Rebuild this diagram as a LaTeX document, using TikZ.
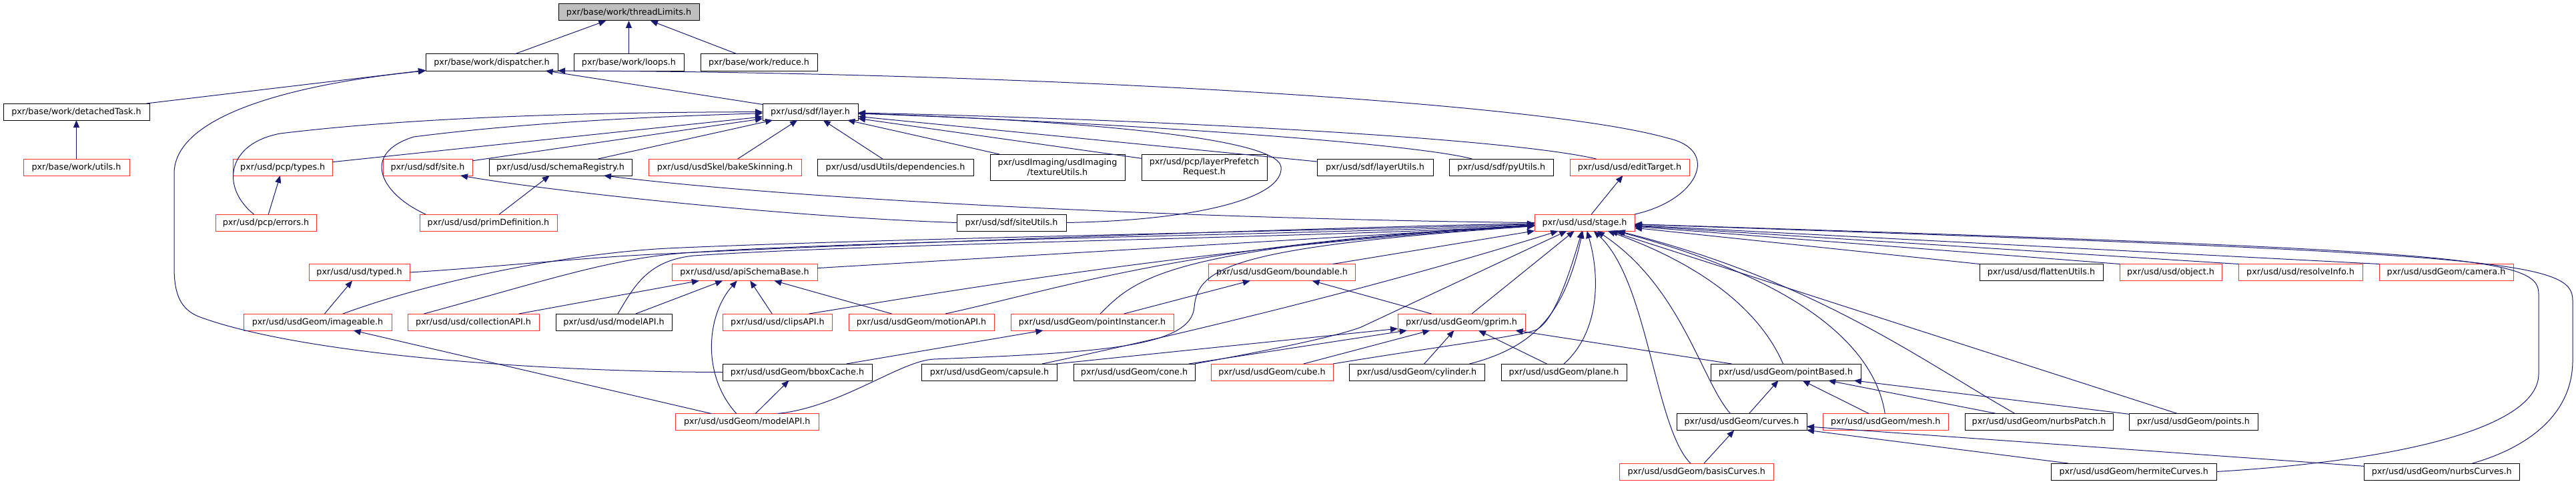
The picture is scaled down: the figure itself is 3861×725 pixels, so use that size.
\documentclass[tikz,border=0pt]{standalone}
\usepackage{fontspec}
\setmainfont{DejaVu Sans}
\usetikzlibrary{arrows.meta,positioning}
\definecolor{edgeblue}{HTML}{191970}
\definecolor{truncred}{HTML}{FF3030}
\definecolor{rootgrey}{HTML}{BFBFBF}
\tikzset{
  filebox/.style={draw=black, fill=white, line width=1pt, inner sep=0pt, outer sep=0pt, minimum height=25pt, align=center, font=\fontsize{12.75}{14.5}\selectfont},
  filetrunc/.style={filebox, draw=truncred},
  fileroot/.style={filebox, fill=rootgrey},
  bw/.style={minimum width=#1pt},
  incl/.style={-{Triangle[length=11pt, width=9pt]}, draw=edgeblue, line width=1pt},
}
\begin{document}
\begin{tikzpicture}[x=1pt, y=-1pt]
  \useasboundingbox (0,0) rectangle (3861,725);
  \node[fileroot, bw=211] (threadlimits) at (942.5,18.5) {pxr/base/work/threadLimits.h};
  \node[filebox, bw=198, anchor=west] (dispatcher) at (638,93.5) {pxr/base/work/dispatcher.h};
  \node[filebox, bw=165, right=24pt of dispatcher] (loops) {pxr/base/work/loops.h};
  \node[filebox, bw=175, right=25pt of loops] (reduce) {pxr/base/work/reduce.h};
  \node[filebox, bw=219, anchor=west] (detachedtask) at (5,167.5) {pxr/base/work/detachedTask.h};
  \node[filebox, bw=143, anchor=west] (layer) at (1143,167.5) {pxr/usd/sdf/layer.h};
  \node[filetrunc, bw=159, anchor=west] (workutils) at (35,250.5) {pxr/base/work/utils.h};
  \node[filetrunc, bw=148.5, right=155.5pt of workutils] (pcptypes) {pxr/usd/pcp/types.h};
  \node[filetrunc, bw=134, right=76pt of pcptypes] (sdfsite) {pxr/usd/sdf/site.h};
  \node[filebox, bw=214, right=25pt of sdfsite] (schemareg) {pxr/usd/usd/schemaRegistry.h};
  \node[filetrunc, bw=229, right=25pt of schemareg] (bakeskin) {pxr/usd/usdSkel/bakeSkinning.h};
  \node[filebox, bw=234, right=24pt of bakeskin] (dependencies) {pxr/usd/usdUtils/dependencies.h};
  \node[filebox, bw=202, minimum height=39pt, right=25pt of dependencies] (textureutils) {pxr/usdImaging/usdImaging\\/textureUtils.h};
  \node[filebox, bw=188, minimum height=39pt, right=25pt of textureutils] (layerprefetch) {pxr/usd/pcp/layerPrefetch\\Request.h};
  \node[filebox, bw=174, right=75pt of layerprefetch] (layerutils) {pxr/usd/sdf/layerUtils.h};
  \node[filebox, bw=155.5, right=24.5pt of layerutils] (pyutils) {pxr/usd/sdf/pyUtils.h};
  \node[filetrunc, bw=179, right=25pt of pyutils] (edittarget) {pxr/usd/usd/editTarget.h};
  \node[filetrunc, bw=151, anchor=west] (pcperrors) at (323,333.5) {pxr/usd/pcp/errors.h};
  \node[filetrunc, bw=206, right=155pt of pcperrors] (primdef) {pxr/usd/usd/primDefinition.h};
  \node[filebox, bw=164, anchor=west] (siteutils) at (1434,333.5) {pxr/usd/sdf/siteUtils.h};
  \node[filetrunc, bw=150, anchor=west] (stage) at (2300,333.5) {pxr/usd/usd/stage.h};
  \node[filetrunc, bw=151, anchor=west] (typed) at (463,408) {pxr/usd/usd/typed.h};
  \node[filetrunc, bw=218, anchor=west] (apischema) at (1007,408) {pxr/usd/usd/apiSchemaBase.h};
  \node[filetrunc, bw=220, anchor=west] (boundable) at (1811.5,408) {pxr/usd/usdGeom/boundable.h};
  \node[filebox, bw=185, anchor=west] (flattenutils) at (2967,408) {pxr/usd/usd/flattenUtils.h};
  \node[filetrunc, bw=153, right=25pt of flattenutils] (object) {pxr/usd/usd/object.h};
  \node[filetrunc, bw=186, right=25pt of object] (resolveinfo) {pxr/usd/usd/resolveInfo.h};
  \node[filetrunc, bw=201, right=25pt of resolveinfo] (camera) {pxr/usd/usdGeom/camera.h};
  \node[filetrunc, bw=222, anchor=west] (imageable) at (365,482.5) {pxr/usd/usdGeom/imageable.h};
  \node[filetrunc, bw=197, right=24pt of imageable] (collectionapi) {pxr/usd/usd/collectionAPI.h};
  \node[filebox, bw=174, right=25pt of collectionapi] (modelapi) {pxr/usd/usd/modelAPI.h};
  \node[filetrunc, bw=164, right=76.5pt of modelapi] (clipsapi) {pxr/usd/usd/clipsAPI.h};
  \node[filetrunc, bw=218, right=24.5pt of clipsapi] (motionapi) {pxr/usd/usdGeom/motionAPI.h};
  \node[filetrunc, bw=244, right=25pt of motionapi] (pointinstancer) {pxr/usd/usdGeom/pointInstancer.h};
  \node[filetrunc, bw=191, anchor=west] (gprim) at (2095,482.5) {pxr/usd/usdGeom/gprim.h};
  \node[filebox, bw=224, anchor=west] (bboxcache) at (1083,557.5) {pxr/usd/usdGeom/bboxCache.h};
  \node[filebox, bw=203, right=74.5pt of bboxcache] (capsule) {pxr/usd/usdGeom/capsule.h};
  \node[filebox, bw=182, right=24.5pt of capsule] (cone) {pxr/usd/usdGeom/cone.h};
  \node[filetrunc, bw=183, right=24pt of cone] (cube) {pxr/usd/usdGeom/cube.h};
  \node[filebox, bw=203, right=24pt of cube] (cylinder) {pxr/usd/usdGeom/cylinder.h};
  \node[filebox, bw=188, right=25pt of cylinder] (plane) {pxr/usd/usdGeom/plane.h};
  \node[filebox, bw=225, right=126pt of plane] (pointbased) {pxr/usd/usdGeom/pointBased.h};
  \node[filetrunc, bw=215.5, anchor=west] (geommodelapi) at (1012,632) {pxr/usd/usdGeom/modelAPI.h};
  \node[filebox, bw=195, anchor=west] (curves) at (2513,632) {pxr/usd/usdGeom/curves.h};
  \node[filetrunc, bw=187.5, right=24.5pt of curves] (mesh) {pxr/usd/usdGeom/mesh.h};
  \node[filebox, bw=222, right=25pt of mesh] (nurbspatch) {pxr/usd/usdGeom/nurbsPatch.h};
  \node[filebox, bw=193, right=24pt of nurbspatch] (points) {pxr/usd/usdGeom/points.h};
  \node[filetrunc, bw=230.5, anchor=west] (basiscurves) at (2427.5,706.5) {pxr/usd/usdGeom/basisCurves.h};
  \node[filebox, bw=247.5, anchor=west] (hermitecurves) at (3074.5,706.5) {pxr/usd/usdGeom/hermiteCurves.h};
  \node[filebox, bw=232.5, anchor=west] (nurbscurves) at (3543.5,706.5) {pxr/usd/usdGeom/nurbsCurves.h};
  \draw[incl] (dispatcher) -- (threadlimits);
  \draw[incl] (loops) -- (threadlimits);
  \draw[incl] (reduce) -- (threadlimits);
  \draw[incl] (detachedtask) -- (dispatcher);
  \draw[incl] (layer) -- (dispatcher);
  \draw[incl] (stage.north east) .. controls (2545,300) and (2580,225) .. (2500,207) .. controls (2300,150) and (1500,108) .. (dispatcher.south east);
  \draw[incl] (bboxcache.west) .. controls (800,557) and (450,530) .. (300,475) .. controls (270,464) and (261,440) .. (261,400) -- (261,260) .. controls (261,170) and (450,125) .. (dispatcher.south west);
  \draw[incl] (workutils) -- (detachedtask);
  \draw[incl] (pcptypes) -- (layer);
  \draw[incl] ([xshift=-18pt]pcperrors.north) .. controls (330,280) and (340,215) .. (420,200) .. controls (650,172) and (950,168) .. (layer);
  \draw[incl] ([xshift=9pt]primdef.north west) .. controls (570,290) and (540,230) .. (620,205) .. controls (800,182) and (1000,174) .. (layer);
  \draw[incl] (sdfsite) -- (layer);
  \draw[incl] (schemareg) -- (layer);
  \draw[incl] (bakeskin) -- (layer);
  \draw[incl] (dependencies) -- (layer);
  \draw[incl] (textureutils) -- (layer);
  \draw[incl] (layerprefetch) -- (layer);
  \draw[incl] (layerutils) -- (layer);
  \draw[incl] ([xshift=-44pt]pyutils.north) .. controls (2120,215) and (1700,185) .. (layer);
  \draw[incl] ([xshift=-50pt]edittarget.north) .. controls (2250,205) and (1700,178) .. (layer);
  \draw[incl] (siteutils.east) .. controls (1800,330) and (1925,295) .. (1920,250) .. controls (1915,205) and (1600,180) .. (layer);
  \draw[incl] (pcperrors) -- (pcptypes);
  \draw[incl] (primdef) -- (schemareg);
  \draw[incl] (siteutils.west) .. controls (1200,326) and (850,290) .. ([xshift=-18pt]sdfsite.south east);
  \draw[incl] (stage.west) .. controls (1900,330) and (1250,305) .. ([xshift=-42pt]schemareg.south east);
  \draw[incl] (stage) -- (edittarget);
  \draw[incl] (typed.east) .. controls (720,402) and (880,385) .. (1000,380) .. controls (1300,365) and (2000,340) .. (stage);
  \draw[incl] ([xshift=38pt]imageable.north) .. controls (650,420) and (850,380) .. (1000,372) .. controls (1300,358) and (2000,345) .. (stage);
  \draw[incl] ([xshift=-74pt]collectionapi.north) .. controls (820,420) and (920,385) .. (1040,378) .. controls (1300,360) and (2000,350) .. (stage);
  \draw[incl] ([xshift=6pt]modelapi.north) .. controls (950,430) and (970,390) .. (1040,383) .. controls (1300,365) and (2000,355) .. (stage);
  \draw[incl] (apischema) -- (stage);
  \draw[incl] ([xshift=47pt]clipsapi.north) .. controls (1400,440) and (1800,370) .. (stage);
  \draw[incl] ([xshift=36pt]motionapi.north) .. controls (1600,430) and (1780,365) .. (stage);
  \draw[incl] ([xshift=12pt]pointinstancer.north) .. controls (1700,420) and (1740,370) .. (stage);
  \draw[incl] (boundable) -- (stage);
  \draw[incl] (flattenutils.north west) -- (stage);
  \draw[incl] (object.north west) -- (stage);
  \draw[incl] (resolveinfo.north west) -- (stage);
  \draw[incl] (camera.north west) -- (stage);
  \draw[incl] (gprim) -- (stage);
  \draw[incl] ([xshift=79pt]capsule.north) .. controls (1800,495) and (2100,420) .. (stage);
  \draw[incl] (cone.north east) .. controls (1900,525) and (2000,505) .. (2040,490) -- (stage);
  \draw[incl] (cube.north east) .. controls (2150,520) and (2270,505) .. (2300,495) .. controls (2330,485) and (2355,400) .. (stage);
  \draw[incl] ([xshift=79pt]cylinder.north) .. controls (2300,520) and (2345,470) .. (stage);
  \draw[incl] (plane.north) .. controls (2395,500) and (2400,420) .. (stage);
  \draw[incl] ([xshift=-4pt]pointbased.north) .. controls (2640,470) and (2560,400) .. (stage);
  \draw[incl] ([xshift=-17pt]curves.north) .. controls (2550,570) and (2520,430) .. (stage);
  \draw[incl] ([xshift=-9pt]basiscurves.north) .. controls (2480,640) and (2470,420) .. (stage);
  \draw[incl] ([xshift=-1pt]mesh.north) .. controls (2810,520) and (2700,420) .. (stage);
  \draw[incl] ([xshift=-36pt]nurbspatch.north) .. controls (2880,540) and (2720,420) .. (stage);
  \draw[incl] ([xshift=-24pt]points.north) -- (stage);
  \draw[incl] (hermitecurves.east) .. controls (3600,690) and (3805,640) .. (3805,560) -- (3805,440) .. controls (3805,385) and (3700,375) .. (stage);
  \draw[incl] ([xshift=46pt]nurbscurves.north) .. controls (3790,670) and (3856,620) .. (3856,540) -- (3856,450) .. controls (3856,390) and (3750,380) .. (stage);
  \draw[incl] ([xshift=46pt]geommodelapi.north) .. controls (1260,610) and (1350,540) .. (1400,538) .. controls (1650,528) and (1785,520) .. (1790,460) .. controls (1795,400) and (1850,370) .. (stage);
  \draw[incl] (imageable) -- (typed);
  \draw[incl] (geommodelapi) -- (imageable);
  \draw[incl] ([xshift=-16pt]geommodelapi.north) .. controls (1050,560) and (1060,470) .. (apischema);
  \draw[incl] (geommodelapi) -- (bboxcache);
  \draw[incl] (collectionapi) -- (apischema);
  \draw[incl] (modelapi) -- (apischema);
  \draw[incl] (clipsapi) -- (apischema);
  \draw[incl] (motionapi) -- (apischema);
  \draw[incl] (pointinstancer) -- (boundable);
  \draw[incl] (bboxcache) -- (pointinstancer);
  \draw[incl] (gprim) -- (boundable);
  \draw[incl] ([xshift=100pt]capsule.north) -- (gprim);
  \draw[incl] (cone) -- (gprim);
  \draw[incl] (cube) -- (gprim);
  \draw[incl] (cylinder) -- (gprim);
  \draw[incl] (plane) -- (gprim);
  \draw[incl] (pointbased) -- (gprim);
  \draw[incl] (curves) -- (pointbased);
  \draw[incl] (mesh) -- (pointbased);
  \draw[incl] (nurbspatch) -- (pointbased);
  \draw[incl] (points) -- (pointbased);
  \draw[incl] (basiscurves) -- (curves);
  \draw[incl] (hermitecurves) -- (curves);
  \draw[incl] (nurbscurves) -- (curves);
\end{tikzpicture}
\end{document}
